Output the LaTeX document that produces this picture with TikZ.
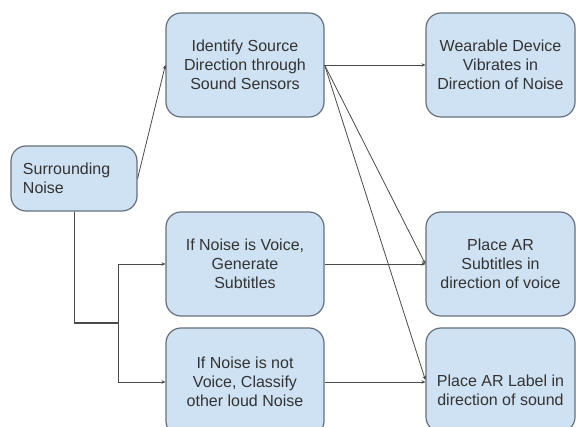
\documentclass[tikz,border=0pt]{standalone}
\usepackage{fontspec}
\setmainfont{Liberation Sans}
\usetikzlibrary{arrows.meta}
\definecolor{boxfill}{HTML}{CFE2F3}
\definecolor{boxline}{HTML}{66707C}
\definecolor{txt}{HTML}{333333}
\definecolor{wire}{HTML}{4A4A4A}
\begin{document}
\begin{tikzpicture}[x=1pt,y=-1pt,
  stepbox/.style={draw=boxline, line width=1.2pt, fill=boxfill, rounded corners=15pt,
    text=txt, font=\fontsize{16}{19}\selectfont, align=center, inner sep=0pt},
  plain/.style={text=txt, font=\fontsize{16}{19}\selectfont, align=center, inner sep=0pt},
  conn/.style={draw=wire, line width=0.8pt, -{Stealth[length=4pt,width=3.5pt]}}]
  \useasboundingbox (0,0) rectangle (576,427);
  \fill[white] (0,0) rectangle (576,427);

  % flow boxes
  \node[stepbox, minimum width=126pt, minimum height=65pt, text width=102pt, align=left]
    (src) at (74,178.5) {Surrounding\\Noise};
  \node[stepbox, minimum width=158pt, minimum height=104pt] (ident) at (245,65)
    {Identify Source\\Direction through\\Sound Sensors};
  \node[stepbox, minimum width=149pt, minimum height=104pt] (wear) at (500.5,65)
    {Wearable Device\\Vibrates in\\Direction of Noise};
  \node[stepbox, minimum width=158pt, minimum height=104pt] (voice) at (245,264)
    {If Noise is Voice,\\Generate\\Subtitles};
  \node[stepbox, minimum width=158pt, minimum height=108pt] (notv) at (245,382)
    {If Noise is not\\Voice, Classify\\other loud Noise};
  \node[stepbox, minimum width=149pt, minimum height=104pt] (subs) at (500.5,264)
    {Place AR\\Subtitles in\\direction of voice};
  \node[stepbox, minimum width=149pt, minimum height=104pt] (lab) at (500.5,380) {};
  \node[plain] (labtxt) at (500.5,390) {Place AR Label in\\direction of sound};

  % branching from the noise source
  \coordinate (split) at (118,322.8);
  \coordinate (split2) at (118,323.5);
  \draw[conn] (src.east) -- (ident.west);
  \draw[conn] (src.south) |- (split) |- (voice.west);
  \draw[conn] (src.south) |- (split2) |- (notv.west);

  % outputs
  \draw[conn] (ident.east) -- (wear.west);
  \draw[conn] (ident.east) -- (subs.west);
  \draw[conn] (ident.east) -- (lab.west);
  \draw[conn] (voice.east) -- (voice.east -| subs.west);
  \draw[conn] (notv.east) -- (notv.east -| lab.west);
\end{tikzpicture}
\end{document}
